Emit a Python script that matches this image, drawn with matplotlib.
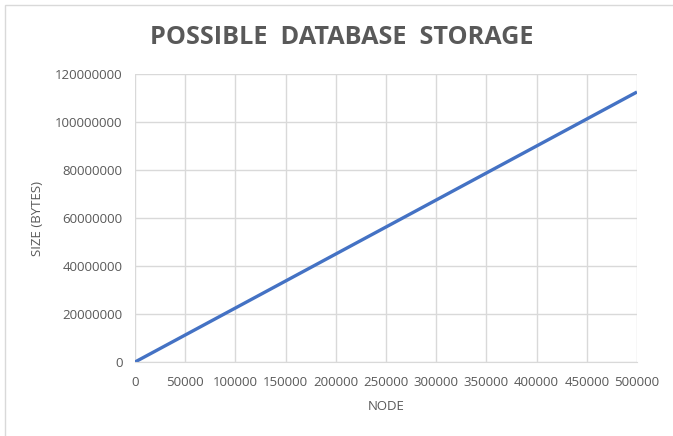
import matplotlib
matplotlib.use("Agg")
import matplotlib.pyplot as plt
from matplotlib.patches import Rectangle

# node count vs. estimated storage size (bytes)
nodes = [0, 50000, 100000, 150000, 200000, 250000, 300000, 350000, 400000, 450000, 500000]
size_bytes = [0, 11250000, 22500000, 33750000, 45000000, 56250000,
              67500000, 78750000, 90000000, 101250000, 112500000]
x_ticks = [0, 50000, 100000, 150000, 200000, 250000, 300000, 350000, 400000, 450000, 500000]
y_ticks = [0, 20000000, 40000000, 60000000, 80000000, 100000000, 120000000]

TXT = "#595959"
GRID = "#d9d9d9"
plt.rcParams["font.family"] = ["Open Sans", "DejaVu Sans"]

fig = plt.figure(figsize=(6.73, 4.36), dpi=100)
ax = fig.add_axes([0.2006, 0.1697, 0.7459, 0.6606])

ax.plot(nodes, size_bytes, color="#4472C4", lw=2.4, solid_capstyle="butt")
ax.set_xlim(0, 500000)
ax.set_ylim(0, 120000000)
ax.set_xticks(x_ticks)
ax.set_yticks(y_ticks)
ax.set_xticklabels([str(v) for v in x_ticks])
ax.set_yticklabels([str(v) for v in y_ticks])
ax.grid(True, color=GRID, lw=1.0)
ax.set_axisbelow(True)
for s in ["top", "right", "left"]:
    ax.spines[s].set_visible(False)
ax.spines["bottom"].set_color(GRID)
ax.tick_params(length=0, labelsize=9.5, labelcolor=TXT, pad=10)
ax.tick_params(axis="y", pad=9)

ax.set_xlabel("NODE", fontsize=9.5, color=TXT, labelpad=8)
ax.set_ylabel("SIZE (BYTES)", fontsize=9.5, color=TXT, labelpad=8)

fig.text(0.508, 0.913, "POSSIBLE  DATABASE  STORAGE", ha="center", va="center",
         fontsize=18.2, fontweight="bold", color=TXT)

# chart border
fig.patches.append(Rectangle((5 / 673, -0.1), 1.2, 1.1 - 5 / 436, transform=fig.transFigure,
                             fill=False, ec=GRID, lw=1.0))

fig.savefig("out.png", dpi=100)
